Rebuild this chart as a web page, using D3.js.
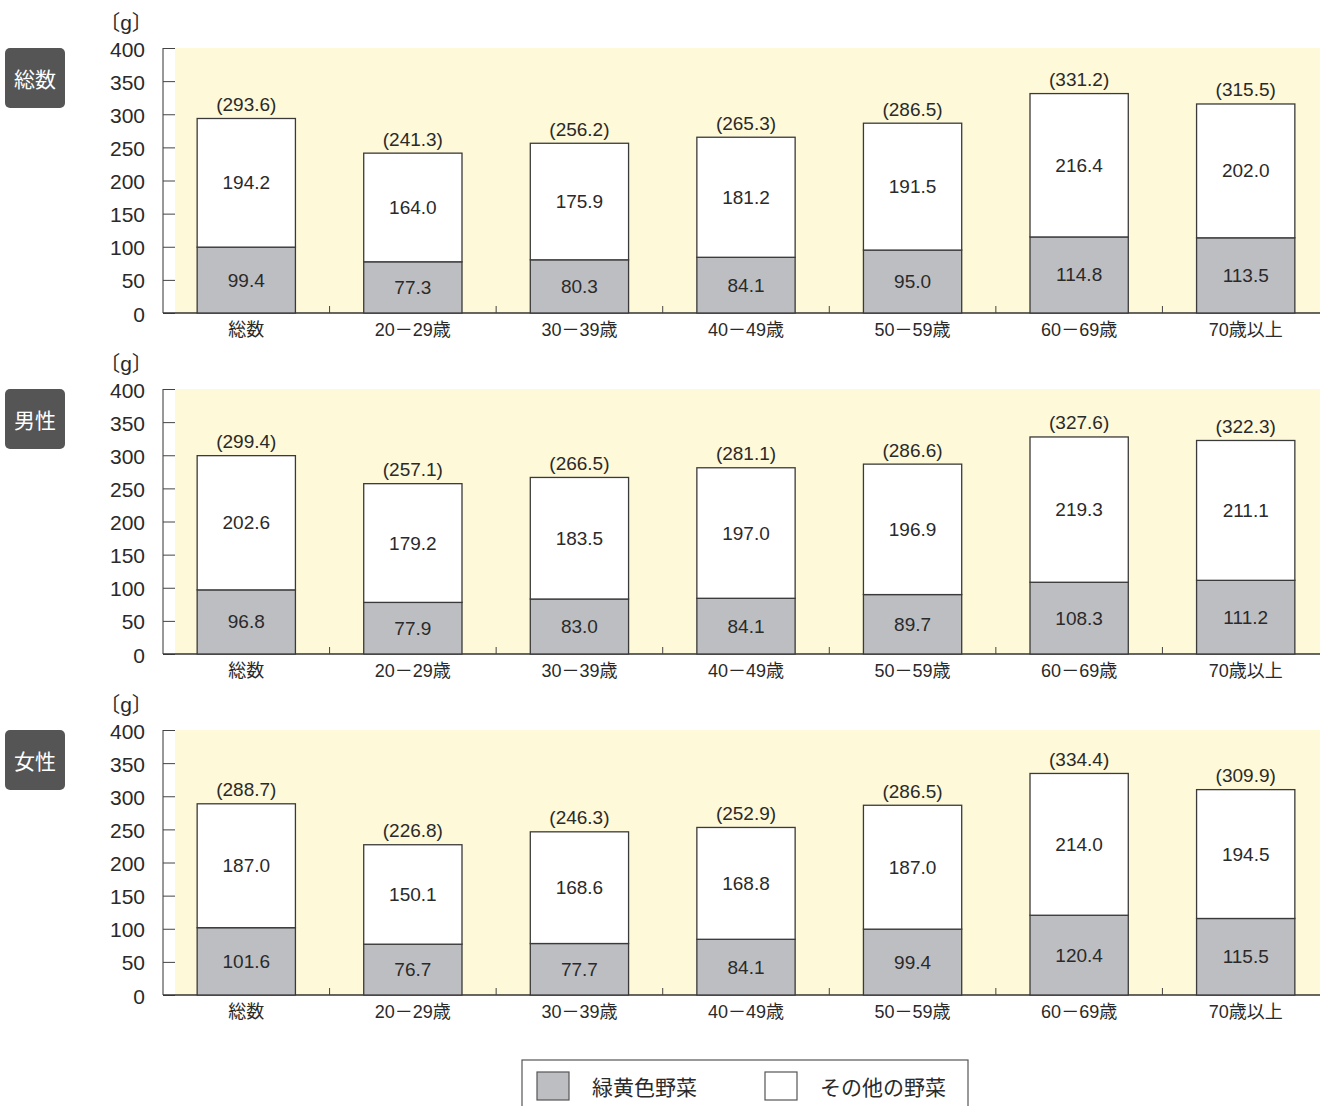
<!DOCTYPE html>
<html>
<head>
<meta charset="utf-8">
<script src="https://cdn.jsdelivr.net/npm/d3@7"></script>
<style>
  body { margin: 0; background: #fff; }
  svg text { font-family: "Liberation Sans", Arial, "Noto Sans CJK JP", sans-serif; fill: #2a2a2a; }
</style>
</head>
<body>
<div id="chart"></div>
<script>
const categories = ["総数", "20－29歳", "30－39歳", "40－49歳", "50－59歳", "60－69歳", "70歳以上"];
const yTicks = [0, 50, 100, 150, 200, 250, 300, 350, 400];

const panelTitles = ["総数", "男性", "女性"];

const greenAll = [99.4, 77.3, 80.3, 84.1, 95.0, 114.8, 113.5];
const otherAll = [194.2, 164.0, 175.9, 181.2, 191.5, 216.4, 202.0];
const totalAll = [293.6, 241.3, 256.2, 265.3, 286.5, 331.2, 315.5];

const greenMen = [96.8, 77.9, 83.0, 84.1, 89.7, 108.3, 111.2];
const otherMen = [202.6, 179.2, 183.5, 197.0, 196.9, 219.3, 211.1];
const totalMen = [299.4, 257.1, 266.5, 281.1, 286.6, 327.6, 322.3];

const greenWomen = [101.6, 76.7, 77.7, 84.1, 99.4, 120.4, 115.5];
const otherWomen = [187.0, 150.1, 168.6, 168.8, 187.0, 214.0, 194.5];
const totalWomen = [288.7, 226.8, 246.3, 252.9, 286.5, 334.4, 309.9];

const legendLabels = ["緑黄色野菜", "その他の野菜"];

const panels = [
  { title: panelTitles[0], green: greenAll, other: otherAll, total: totalAll },
  { title: panelTitles[1], green: greenMen, other: otherMen, total: totalMen },
  { title: panelTitles[2], green: greenWomen, other: otherWomen, total: totalWomen }
];

const W = 1320, H = 1106;
const axisX = 163, plotRight = 1329;
const panelTop0 = 48, panelH = 265, panelStep = 341;
const grayFill = "#bdbec2", barStroke = "#3a3a3a", bgYellow = "#fef9d8";

const svg = d3.select("#chart").append("svg")
  .attr("width", W).attr("height", H);

const x = d3.scaleBand().domain(categories).range([axisX, plotRight]).paddingInner(0.41).paddingOuter(0.205);
const y = d3.scaleLinear().domain([0, 400]).range([panelH, 0]);
const fmt = d3.format(".1f");

panels.forEach((p, i) => {
  const g = svg.append("g").attr("transform", `translate(0, ${panelTop0 + i * panelStep})`);

  // yellow background
  g.append("rect")
    .attr("x", axisX + 12).attr("y", 0)
    .attr("width", W - axisX - 12).attr("height", panelH)
    .attr("fill", bgYellow);

  // side badge
  g.append("rect")
    .attr("x", 5).attr("y", 0).attr("width", 60).attr("height", 60)
    .attr("rx", 5).attr("fill", "#555");
  g.append("text")
    .attr("x", 35).attr("y", 31)
    .attr("text-anchor", "middle").attr("dominant-baseline", "central")
    .attr("font-size", 21).style("fill", "#fff")
    .text(p.title);

  // unit
  g.append("text")
    .attr("x", 126).attr("y", -26)
    .attr("text-anchor", "middle").attr("dominant-baseline", "central")
    .attr("font-size", 21).text("〔g〕");

  // y axis
  const yAxis = g.append("g").attr("transform", `translate(${axisX},0)`)
    .call(d3.axisRight(y).tickValues(yTicks).tickSize(12).tickFormat(""));
  yAxis.select(".domain").attr("stroke", "#333").attr("d", `M0,0V${panelH}`);
  yAxis.selectAll(".tick line").attr("stroke", "#444");
  g.selectAll(".ylab").data(yTicks).enter().append("text")
    .attr("x", 145).attr("y", d => y(d) + 1)
    .attr("text-anchor", "end").attr("dominant-baseline", "central")
    .attr("font-size", 21).text(d => d);

  // x axis
  const xAxis = g.append("g").attr("transform", `translate(0,${panelH})`)
    .call(d3.axisBottom(x).tickSize(0).tickFormat(""));
  xAxis.select(".domain").attr("stroke", "#333").attr("stroke-width", 1.3).attr("d", `M${axisX},0H${W}`);
  xAxis.selectAll(".tick").remove();
  const step = x.step();
  g.selectAll(".xtick").data(categories.slice(1)).enter().append("line")
    .attr("x1", d => x(d) - step * x.paddingInner() / 2)
    .attr("x2", d => x(d) - step * x.paddingInner() / 2)
    .attr("y1", panelH).attr("y2", panelH - 7)
    .attr("stroke", "#444");
  g.selectAll(".xlab").data(categories).enter().append("text")
    .attr("x", d => x(d) + x.bandwidth() / 2).attr("y", panelH + 17)
    .attr("text-anchor", "middle").attr("dominant-baseline", "central")
    .attr("font-size", 18).text(d => d);

  const rows = categories.map((c, j) => ({ c, green: p.green[j], other: p.other[j], total: p.total[j] }));

  // green-yellow segment
  g.selectAll(".gbar").data(rows).enter().append("rect")
    .attr("x", d => x(d.c)).attr("width", x.bandwidth())
    .attr("y", d => y(d.green)).attr("height", d => y(0) - y(d.green))
    .attr("fill", grayFill).attr("stroke", barStroke).attr("stroke-width", 1.3);

  // other segment
  g.selectAll(".obar").data(rows).enter().append("rect")
    .attr("x", d => x(d.c)).attr("width", x.bandwidth())
    .attr("y", d => y(d.green + d.other)).attr("height", d => y(d.green) - y(d.green + d.other))
    .attr("fill", "#fff").attr("stroke", barStroke).attr("stroke-width", 1.3);

  g.selectAll(".glab").data(rows).enter().append("text")
    .attr("x", d => x(d.c) + x.bandwidth() / 2).attr("y", d => y(d.green / 2))
    .attr("text-anchor", "middle").attr("dominant-baseline", "central")
    .attr("font-size", 19).text(d => fmt(d.green));

  g.selectAll(".olab").data(rows).enter().append("text")
    .attr("x", d => x(d.c) + x.bandwidth() / 2).attr("y", d => y(d.green + d.other / 2))
    .attr("text-anchor", "middle").attr("dominant-baseline", "central")
    .attr("font-size", 19).text(d => fmt(d.other));

  g.selectAll(".tlab").data(rows).enter().append("text")
    .attr("x", d => x(d.c) + x.bandwidth() / 2).attr("y", d => y(d.green + d.other) - 14)
    .attr("text-anchor", "middle").attr("dominant-baseline", "central")
    .attr("font-size", 19).text(d => "(" + fmt(d.total) + ")");
});

// legend
const lg = svg.append("g").attr("transform", "translate(522,1060)");
lg.append("rect").attr("x", 0).attr("y", 0).attr("width", 446).attr("height", 50)
  .attr("fill", "#fff").attr("stroke", "#555").attr("stroke-width", 1.2);
const legendFills = [grayFill, "#fff"];
legendLabels.forEach((t, i) => {
  const ox = 15 + i * 228;
  lg.append("rect").attr("x", ox).attr("y", 12).attr("width", 32).attr("height", 28)
    .attr("fill", legendFills[i]).attr("stroke", "#555").attr("stroke-width", 1.2);
  lg.append("text").attr("x", ox + 55).attr("y", 27)
    .attr("dominant-baseline", "central").attr("font-size", 21).text(t);
});
</script>
</body>
</html>
